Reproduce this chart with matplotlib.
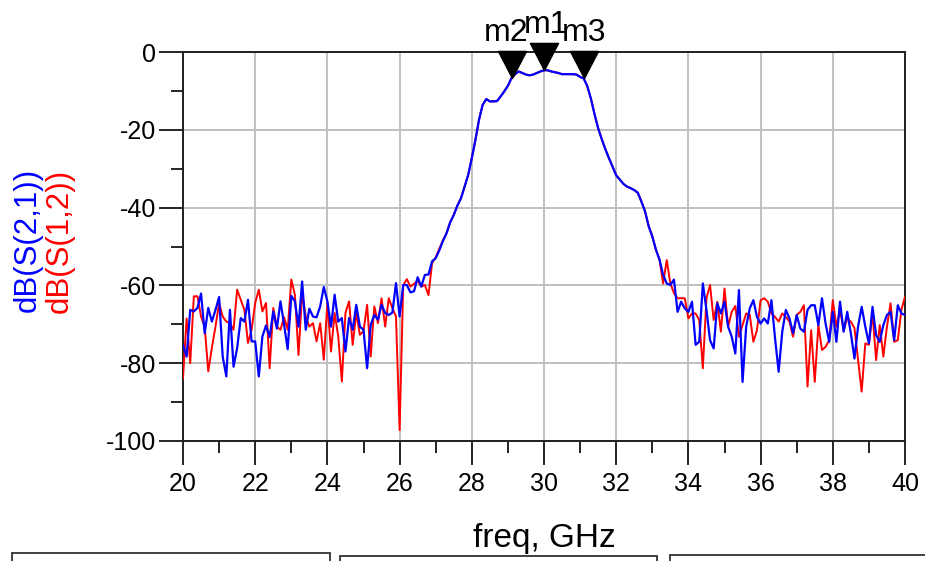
import numpy as np
import matplotlib
matplotlib.use('Agg')
import matplotlib.pyplot as plt
from matplotlib.path import Path
from matplotlib.patches import Rectangle

plt.rcParams['font.family'] = ['Liberation Sans', 'DejaVu Sans']
plt.rcParams['axes.unicode_minus'] = False

# frequency sweep 20..40 GHz, 0.1 GHz step
freq = np.round(np.linspace(20, 40, 201), 1)

# 20.0 .. 27.2 GHz
s21_low = [-75.3, -78.3, -66.3, -66.7, -65.8, -62.1, -72.3, -65.8, -69.3, -66.3,
           -63.0, -78.3, -83.4, -66.3, -80.9, -76.1, -68.4, -69.3, -63.7, -74.4,
           -74.4, -83.4, -73.1, -70.3, -73.3, -66.7, -71.1, -64.1, -70.1, -76.4,
           -62.7, -64.1, -70.6, -59.0, -71.4, -66.0, -68.0, -68.2, -65.4, -60.4,
           -64.1, -70.6, -62.4, -69.3, -68.4, -77.0, -68.4, -71.4, -65.0, -70.6,
           -71.4, -81.3, -70.1, -67.6, -68.8, -65.0, -67.1, -67.6, -67.0, -59.4,
           -68.0, -59.9, -59.9, -61.8, -61.5, -57.9, -60.3, -57.3, -57.2, -53.8,
           -53.0, -51.0, -48.6]
s12_low = [-83.9, -68.5, -80.0, -62.8, -62.8, -68.0, -70.6, -82.1, -76.0, -70.6,
           -64.5, -68.0, -69.3, -69.7, -71.4, -61.1, -63.7, -66.3, -74.8, -71.4,
           -64.5, -61.1, -66.7, -64.5, -81.3, -65.8, -70.6, -71.4, -68.2, -71.4,
           -58.5, -62.4, -77.9, -62.0, -68.0, -70.6, -69.7, -74.4, -69.7, -79.1,
           -64.5, -77.0, -67.1, -73.1, -84.7, -67.1, -64.1, -75.3, -67.1, -72.7,
           -71.8, -65.0, -78.3, -65.4, -69.7, -63.3, -70.6, -63.3, -65.8, -68.0,
           -97.2, -59.9, -58.4, -60.3, -59.6, -58.8, -60.3, -59.9, -62.5, -54.3,
           -52.8, -50.6, -48.4]

# 27.3 .. 33.2 GHz (both traces overlap)
passband = [-46.6, -43.8, -41.9, -39.5, -37.6, -34.6, -31.6, -27.3, -22.6, -17.4,
            -13.6, -12.1, -12.7, -12.7, -12.6, -11.4, -10.1, -8.7, -6.7, -5.7,
            -5.0, -5.4, -5.8, -6.0, -5.8, -5.4, -5.0, -4.7, -4.7, -5.0,
            -5.2, -5.4, -5.7, -5.7, -5.7, -5.7, -5.8, -6.4, -6.8, -8.8,
            -12.0, -16.0, -19.6, -22.4, -25.0, -27.3, -29.5, -31.7, -32.8, -33.9,
            -34.6, -35.0, -35.5, -36.2, -38.5, -41.0, -44.8, -47.4, -50.8, -53.4]

# 33.3 .. 40.0 GHz
s21_high = [-57.3, -59.5, -59.9, -58.5, -66.8, -64.2, -65.9, -66.8, -64.2, -75.3,
            -74.5, -59.5, -66.3, -74.1, -76.2, -64.6, -67.2, -64.2, -70.6, -73.2,
            -77.5, -61.2, -84.8, -70.6, -65.9, -63.8, -68.1, -69.8, -68.5, -69.8,
            -63.8, -73.6, -82.2, -71.9, -66.3, -68.5, -72.3, -67.6, -71.1, -71.9,
            -66.3, -65.1, -65.1, -70.2, -63.3, -69.8, -74.5, -66.8, -74.5, -64.2,
            -71.9, -66.8, -72.3, -78.8, -70.6, -65.5, -70.6, -74.9, -65.5, -72.8,
            -74.5, -70.2, -67.6, -66.8, -74.1, -65.1, -67.2, -67.6]
s12_high = [-59.5, -53.5, -59.5, -62.0, -63.3, -63.3, -63.3, -68.5, -67.2, -67.2,
            -68.9, -81.3, -63.3, -59.9, -68.9, -64.2, -71.9, -60.8, -70.6, -66.8,
            -65.3, -73.2, -70.2, -67.2, -67.6, -74.5, -71.5, -63.8, -63.3, -64.2,
            -67.2, -68.1, -69.3, -67.2, -68.1, -69.3, -73.2, -67.6, -66.8, -65.1,
            -86.0, -71.5, -84.8, -70.2, -76.6, -75.8, -74.1, -63.8, -70.6, -66.3,
            -71.5, -68.5, -69.3, -71.0, -79.2, -87.3, -74.9, -75.3, -67.2, -79.2,
            -70.2, -78.3, -70.6, -64.6, -74.5, -74.1, -66.3, -62.9]

s21 = np.array(s21_low + passband + s21_high)
s12 = np.array(s12_low + passband + s12_high)

marker_names = ['m1', 'm2', 'm3']
marker_freqs = [30.0, 29.1, 31.1]
label_dx = [2, -5, 0]

fig = plt.figure(figsize=(9.25, 5.61), dpi=100)
ax = fig.add_axes([183/925, 1-441/561, (905-183)/925, (441-52)/561])

ax.plot(freq, s12, color='red', lw=1.4, zorder=3)
ax.plot(freq, s21, color='blue', lw=1.6, zorder=4)

ax.set_xlim(20, 40)
ax.set_ylim(-100, 0)
ax.set_xticks(np.arange(20, 41, 2))
ax.set_xticks(np.arange(21, 40, 2), minor=True)
ax.set_yticks(np.arange(-100, 1, 20))
ax.set_yticks(np.arange(-90, 0, 20), minor=True)
ax.grid(True, which='major', color='#c0c0c0', lw=1.4)
ax.tick_params(which='major', length=17.5, width=1.2, labelsize=18, direction='out')
ax.tick_params(which='minor', length=8.5, width=1.2, direction='out')
ax.tick_params(axis='x', pad=5)
ax.tick_params(axis='y', pad=2)
for sp in ax.spines.values():
    sp.set_linewidth(1.4)
    sp.set_color('#202020')

# marker triangles with tip at the data point
tri = Path([(0, 0), (-0.52, 1), (0.52, 1), (0, 0)],
           [Path.MOVETO, Path.LINETO, Path.LINETO, Path.CLOSEPOLY])
for name, f, dx in zip(marker_names, marker_freqs, label_dx):
    v = s21[np.argmin(np.abs(freq - f))]
    ax.plot([f], [v], marker=tri, markersize=39, color='black', clip_on=False, zorder=6)
    ax.annotate(name, (f, v), xytext=(dx, 37), textcoords='offset pixels',
                ha='center', va='baseline', fontsize=23, zorder=7,
                annotation_clip=False)

fig.text(28/925, 1-240/561, 'dB(S(2,1))', color='blue', rotation=90,
         ha='center', va='center', fontsize=22.5)
fig.text(60/925, 1-241/561, 'dB(S(1,2))', color='red', rotation=90,
         ha='center', va='center', fontsize=22.5)
fig.text(544/925, 1-538/561, 'freq, GHz', ha='center', va='center', fontsize=24)

# readout boxes cut off at the bottom edge
for x0, x1, top in [(12, 330, 553), (340, 657, 556), (670, 930, 555)]:
    fig.patches.append(Rectangle((x0/925, (561-top-20)/561), (x1-x0)/925, 20/561,
                                 transform=fig.transFigure, fill=False,
                                 edgecolor='#303030', lw=1.3))

fig.savefig('out.png', dpi=100)
